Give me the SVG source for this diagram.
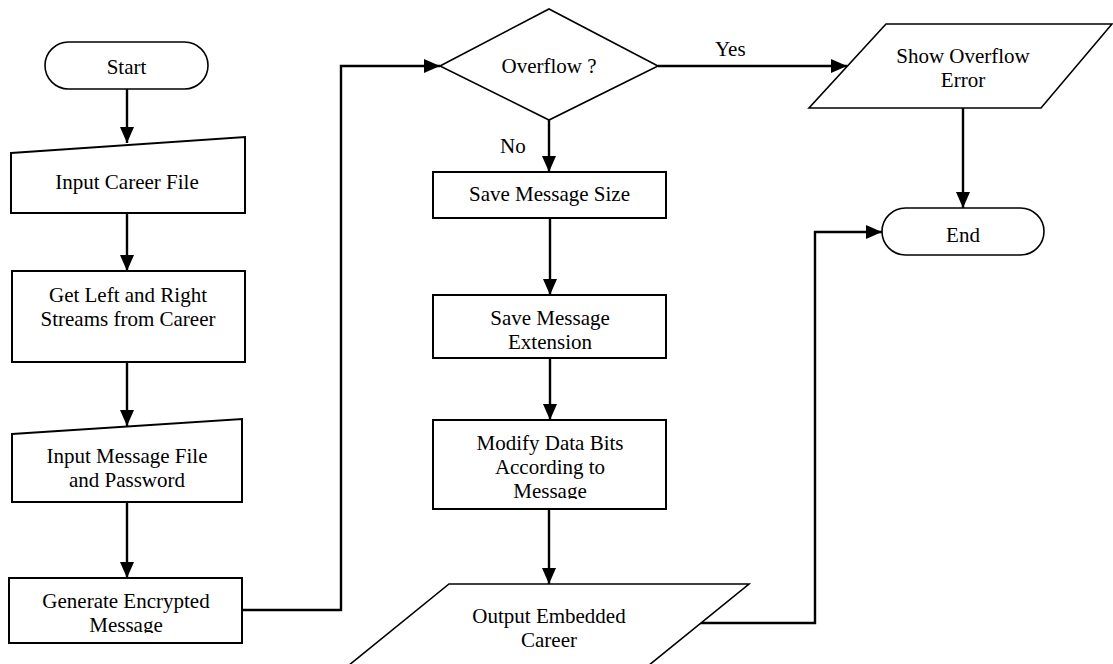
<svg xmlns="http://www.w3.org/2000/svg" width="1113" height="664" viewBox="0 0 1113 664">
<style>
.shape{fill:#fff;stroke:#000;stroke-width:2}
.thin{fill:#fff;stroke:#000;stroke-width:1.6}
.conn{fill:none;stroke:#000;stroke-width:2.4}
text{font-family:"Liberation Serif","Times New Roman",serif;font-size:21px;fill:#000;text-anchor:middle}
.lbl{text-anchor:start}
</style>
<defs>
<marker id="arr" markerWidth="16" markerHeight="14" refX="16" refY="7" orient="auto" markerUnits="userSpaceOnUse">
<path d="M0,0 L16,7 L0,14 Z" fill="#000"/>
</marker>
<clipPath id="c1"><rect x="0" y="0" width="1113" height="75"/></clipPath>
<clipPath id="c2"><rect x="0" y="0" width="1113" height="633"/></clipPath>
<clipPath id="c3"><rect x="0" y="0" width="1113" height="349"/></clipPath>
<clipPath id="c4"><rect x="0" y="0" width="1113" height="499"/></clipPath>
</defs>
<rect width="1113" height="664" fill="#fff"/>
<g id="connectors">
<path class="conn" d="M127,89 V143" marker-end="url(#arr)"/>
<path class="conn" d="M127,213 V271" marker-end="url(#arr)"/>
<path class="conn" d="M127,362 V426" marker-end="url(#arr)"/>
<path class="conn" d="M127,502 V578" marker-end="url(#arr)"/>
<path class="conn" d="M242,610 H341 V66 H440" marker-end="url(#arr)"/>
<path class="conn" d="M658,66 H847" marker-end="url(#arr)"/>
<path class="conn" d="M549,120 V172" marker-end="url(#arr)"/>
<path class="conn" d="M550,218 V295" marker-end="url(#arr)"/>
<path class="conn" d="M550,358 V420" marker-end="url(#arr)"/>
<path class="conn" d="M549,509 V584" marker-end="url(#arr)"/>
<path class="conn" d="M700,623 H815 V232 H882" marker-end="url(#arr)"/>
<path class="conn" d="M963,108 V208" marker-end="url(#arr)"/>
<text class="lbl" x="500" y="153">No</text>
<text class="lbl" x="715" y="56">Yes</text>
</g>
<g id="start">
<rect class="thin" x="45" y="42" width="163" height="47" rx="23.5"/>
<text x="126.5" y="74" clip-path="url(#c1)">Start</text>
</g>
<g id="input-career">
<polygon class="shape" points="11,153 245,137 245,213 11,213"/>
<text x="127" y="189">Input Career File</text>
</g>
<g id="get-streams">
<rect class="shape" x="12" y="271" width="233" height="91"/>
<text x="128" y="302">Get Left and Right</text>
<text x="128" y="326">Streams from Career</text>
</g>
<g id="input-message">
<polygon class="shape" points="12,434 242,419 242,502 12,502"/>
<text x="127" y="463">Input Message File</text>
<text x="127" y="487">and Password</text>
</g>
<g id="generate">
<rect class="shape" x="9" y="578" width="233" height="65"/>
<text x="126" y="608">Generate Encrypted</text>
<text x="126" y="632" clip-path="url(#c2)">Message</text>
</g>
<g id="overflow">
<polygon class="thin" points="440,66 549,9 658,66 549,120"/>
<text x="549" y="73">Overflow ?</text>
</g>
<g id="save-size">
<rect class="shape" x="433" y="172" width="233" height="46"/>
<text x="549.5" y="201">Save Message Size</text>
</g>
<g id="save-ext">
<rect class="shape" x="433" y="295" width="233" height="63"/>
<text x="550" y="325">Save Message</text>
<text x="550" y="349" clip-path="url(#c3)">Extension</text>
</g>
<g id="modify">
<rect class="shape" x="433" y="420" width="233" height="89"/>
<text x="550" y="450">Modify Data Bits</text>
<text x="550" y="474">According to</text>
<text x="550" y="498" clip-path="url(#c4)">Message</text>
</g>
<g id="output">
<polygon class="thin" points="449,584 749,584 643,670 343,670"/>
<text x="549" y="623">Output Embedded</text>
<text x="549" y="647">Career</text>
</g>
<g id="show-error">
<polygon class="thin" points="886,24 1112,24 1041,108 809,108"/>
<text x="963" y="63">Show Overflow</text>
<text x="963" y="87">Error</text>
</g>
<g id="end">
<rect class="thin" x="882" y="208" width="162" height="47" rx="23.5"/>
<text x="963" y="242">End</text>
</g>
</svg>
